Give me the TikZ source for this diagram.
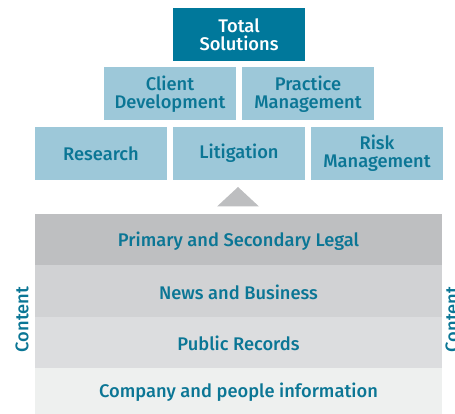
\documentclass[tikz,border=0pt]{standalone}
\usepackage{fontspec}
\setmainfont{Fira Sans}[UprightFont=* Medium]
\definecolor{darkteal}{HTML}{00789B}
\definecolor{lightblue}{HTML}{9DC8D9}
\definecolor{txtteal}{HTML}{0B7695}
\definecolor{bandA}{HTML}{BEBFC1}
\definecolor{bandB}{HTML}{D1D2D4}
\definecolor{bandC}{HTML}{DCDDDF}
\definecolor{bandD}{HTML}{EEF0EF}
\definecolor{trigray}{HTML}{BDBEC0}
\begin{document}
\begin{tikzpicture}[x=1pt,y=-1pt,
  box/.style={rectangle,inner sep=0pt,minimum width=132pt,minimum height=53pt,align=center,
    font=\fontsize{18.3}{18}\selectfont},
  topbox/.style={box,fill=darkteal,text=white},
  subbox/.style={box,fill=lightblue,text=txtteal},
  bandlabel/.style={inner sep=0pt,text=txtteal,font=\fontsize{18.3}{18}\selectfont},
  sidelabel/.style={inner sep=0pt,text=txtteal,rotate=90,font=\fontsize{18.3}{18}\selectfont}]
\useasboundingbox (0,0) rectangle (455,414);
% pyramid of solutions
\node[topbox] (total) at (239,34.5) {Total\\Solutions};
\node[subbox] (client) at (170,94) {Client\\Development};
\node[subbox] (practice) at (308,94) {Practice\\Management};
\node[subbox] (research) at (101,153.5) {Research};
\node[subbox] (litigation) at (239,153.5) {Litigation};
\node[subbox] (risk) at (377,153.5) {Risk\\Management};
% triangle
\fill[trigray] (217,206.5) -- (238,187) -- (259,206.5) -- cycle;
% content bands
\fill[bandA] (35,214) rectangle (442,265.3);
\fill[bandB] (35,265.3) rectangle (442,316.7);
\fill[bandC] (35,316.7) rectangle (442,368);
\fill[bandD] (35,368) rectangle (442,414);
\node[bandlabel] (legal) at (238.5,241.5) {Primary and Secondary Legal};
\node[bandlabel] (news) at (238.5,292) {News and Business};
\node[bandlabel] (records) at (238.5,343) {Public Records};
\node[bandlabel] (company) at (238.5,392.5) {Company and people information};
\node[sidelabel] (contentL) at (22,319.5) {Content};
\node[sidelabel] (contentR) at (452,319.5) {Content};
\end{tikzpicture}
\end{document}
